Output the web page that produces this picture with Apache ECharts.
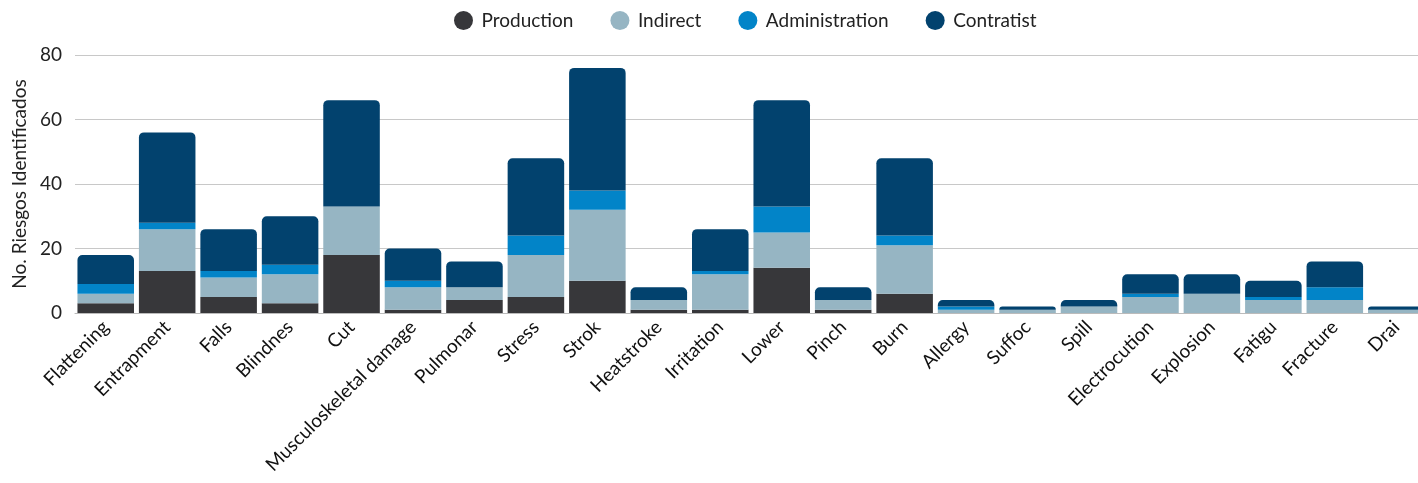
<!DOCTYPE html>
<html>
<head>
<meta charset="utf-8">
<script src="https://cdn.jsdelivr.net/npm/echarts@6/dist/echarts.min.js"></script>
<style>
  html, body { margin: 0; padding: 0; background: #fff; }
  #chart { width: 1418px; height: 483px; }
</style>
</head>
<body>
<div id="chart"></div>
<script>
const categories = ['Flattening', 'Entrapment', 'Falls', 'Blindnes', 'Cut', 'Musculoskeletal damage', 'Pulmonar',
  'Stress', 'Strok', 'Heatstroke', 'Irritation', 'Lower', 'Pinch', 'Burn', 'Allergy', 'Suffoc', 'Spill',
  'Electrocution', 'Explosion', 'Fatigu', 'Fracture', 'Drai']
const production     = [3, 13, 5, 3, 18, 1, 4, 5, 10, 1, 1, 14, 1, 6, 0, 0, 0, 0, 0, 0, 0, 0]
const indirect       = [3, 13, 6, 9, 15, 7, 4, 13, 22, 3, 11, 11, 3, 15, 1, 1, 2, 5, 6, 4, 4, 1]
const administration = [3, 2, 2, 3, 0, 2, 0, 6, 6, 0, 1, 8, 0, 3, 1, 0, 0, 1, 0, 1, 4, 0]
const contratist     = [9, 28, 13, 15, 33, 10, 8, 24, 38, 4, 13, 33, 4, 24, 2, 1, 2, 6, 6, 5, 8, 1]
const yTicks = [0, 20, 40, 60, 80]

const chart = echarts.init(document.getElementById('chart'))

const seriesDefs = [
  {name: 'Production', data: production, color: '#37373a'},
  {name: 'Indirect', data: indirect, color: '#96b5c3'},
  {name: 'Administration', data: administration, color: '#0284c8'},
  {name: 'Contratist', data: contratist, color: '#02426e'},
]

const option = {
  animation: false,
  legend: {
    top: 6,
    left: 449,
    icon: 'circle',
    itemWidth: 26,
    itemHeight: 19,
    itemGap: 37,
    textStyle: {fontFamily: 'Lato', fontSize: 19, color: '#222'},
  },
  grid: {
    left: 75,
    width: 1352, // 最后一根柱子被右边裁掉一部分
    top: 55,
    bottom: 170,
    outerBoundsMode: 'none',
  },
  xAxis: {
    type: 'category',
    data: categories,
    axisTick: {show: false},
    axisLine: {lineStyle: {color: '#bbb', width: 1}},
    axisLabel: {
      rotate: 45,
      interval: 0,
      margin: 11,
      fontFamily: 'Lato',
      fontSize: 19,
      color: '#111',
    },
  },
  yAxis: {
    type: 'value',
    min: yTicks[0],
    max: yTicks[yTicks.length - 1],
    interval: 20,
    name: 'No. Riesgos Identificados',
    nameLocation: 'middle',
    nameGap: 45,
    nameTextStyle: {fontFamily: 'Lato', fontSize: 19, color: '#222'},
    axisLabel: {fontFamily: 'Lato', fontSize: 19, color: '#222', margin: 13},
    splitLine: {lineStyle: {color: '#c8c8c8', width: 1}},
  },
  series: seriesDefs.map((s, i) => ({
    name: s.name,
    type: 'bar',
    stack: 'total',
    data: s.data,
    barCategoryGap: '8%',
    itemStyle: {
      color: s.color,
      borderRadius: i === seriesDefs.length - 1 ? [5, 5, 0, 0] : 0,
    },
  })),
}

chart.setOption(option)
</script>
</body>
</html>
